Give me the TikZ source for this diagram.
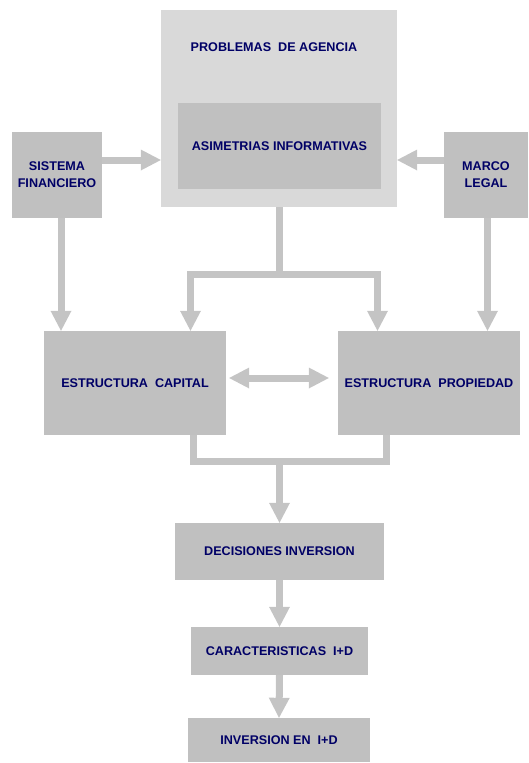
\documentclass[tikz,border=0pt]{standalone}
\usepackage{fontspec}
\setmainfont{Liberation Sans}[BoldFont={Liberation Sans Bold}]
\usetikzlibrary{arrows.meta}
\definecolor{boxgray}{RGB}{192,192,192}
\definecolor{outergray}{RGB}{217,217,217}
\definecolor{arrgray}{RGB}{196,196,196}
\definecolor{navy}{RGB}{0,0,102}
\begin{document}
\begin{tikzpicture}[x=1pt,y=-1pt,
  txt/.style={text=navy,font=\bfseries\fontsize{12.6}{17}\selectfont,align=center},
  box/.style={fill=boxgray,draw=none,inner sep=0pt,txt},
  conn/.style={draw=arrgray,line width=7pt,line join=miter},
  arr/.style={conn,-{Triangle[length=20pt,width=21pt,line width=0pt]}},
  arrboth/.style={conn,{Triangle[length=20pt,width=21pt,line width=0pt]}-{Triangle[length=20pt,width=21pt,line width=0pt]}}]
\useasboundingbox (0,0) rectangle (528,763);
% boxes
\node[fill=outergray,inner sep=0pt,minimum width=236pt,minimum height=197pt] (PA) at (279,108.5) {};
\node[txt] (PAt) at (274,47) {PROBLEMAS\ \ DE AGENCIA};
\node[box,minimum width=203pt,minimum height=86pt] (AI) at (279.5,146) {ASIMETRIAS INFORMATIVAS};
\node[box,minimum width=90pt,minimum height=86pt] (SF) at (57,175) {SISTEMA\\FINANCIERO};
\node[box,minimum width=84pt,minimum height=86pt] (ML) at (486,174.5) {MARCO\\LEGAL};
\node[box,minimum width=182pt,minimum height=104pt] (EC) at (135,383) {ESTRUCTURA\ \ CAPITAL};
\node[box,minimum width=182pt,minimum height=104pt] (EP) at (429,383) {ESTRUCTURA\ \ PROPIEDAD};
\node[box,minimum width=209pt,minimum height=57pt] (DI) at (279.5,551.5) {DECISIONES INVERSION};
\node[box,minimum width=177pt,minimum height=48pt] (CA) at (279.5,651) {CARACTERISTICAS\ \ I+D};
\node[box,minimum width=182pt,minimum height=44pt] (IN) at (279,740) {INVERSION EN\ \ I+D};
% junctions
\coordinate (j1) at (279,274);
\coordinate (j2) at (279.5,461);
% connectors
\draw[arr] (SF.east |- 0,160) -- (PA.west |- 0,160);
\draw[arr] (ML.west |- 0,160) -- (PA.east |- 0,160);
\draw[arr] (SF.south -| 61,0) -- (EC.north -| 61,0);
\draw[arr] (ML.south -| 487.5,0) -- (EP.north -| 487.5,0);
\draw[conn] (PA.south -| j1) -- (j1);
\draw[arrboth] (EC.north -| 190.5,0) -- (190.5,274) -- (377.5,274) -- (EP.north -| 377.5,0);
\draw[arrboth,shorten <=3pt,shorten >=9pt] (EC.east |- 0,378) -- (EP.west |- 0,378);
\draw[conn] (EC.south -| 193.5,0) -- (193.5,461) -- (386,461) -- (EP.south -| 386,0);
\draw[arr] (j2) -- (DI.north);
\draw[arr] (DI.south) -- (CA.north);
\draw[arr] (CA.south) -- (IN.north);
\end{tikzpicture}
\end{document}
